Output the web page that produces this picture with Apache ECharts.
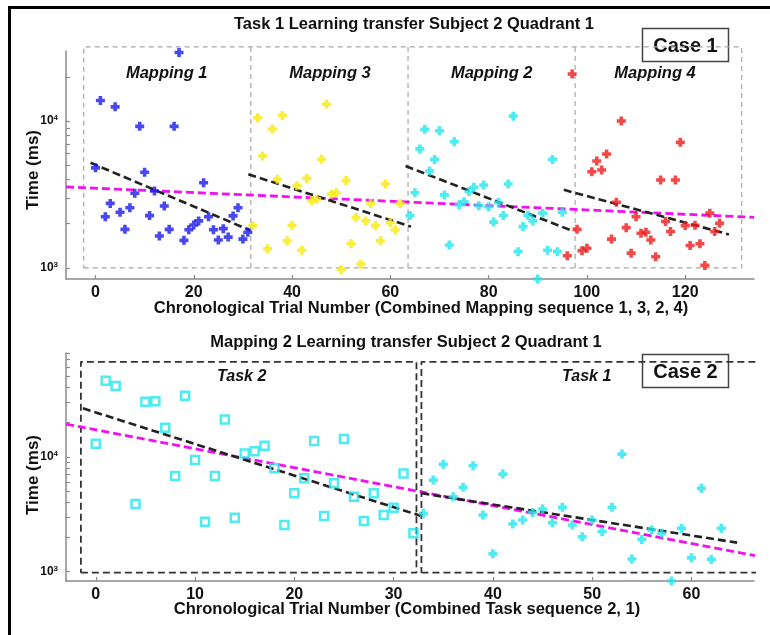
<!DOCTYPE html>
<html><head><meta charset="utf-8">
<script src="https://cdn.jsdelivr.net/npm/echarts@6/dist/echarts.min.js"></script>
<style>html,body{margin:0;padding:0;background:#fff}#c{width:770px;height:635px}</style>
</head><body><div id="c"></div>
<script>
// ---------- DATA ----------
// Case 1 (top): trial number vs time (ms)
const map1Trials = [0,1,2,3,4,5,6,7,8,9,10,11,12,13,14,15,16,17,18,19,20,21,22,23,24,25,26,27,28,29,30,31];
const map1Times  = [4800,13800,2230,2750,12500,2390,1830,2570,3220,9200,4480,2270,3340,1650,2640,1830,9200,29300,1540,1820,1960,2090,3800,2230,1820,1550,1850,1620,2260,2570,1570,1750];
const map3Trials = [32,33,34,35,36,37,38,39,40,41,42,43,44,45,46,47,48,49,50,51,52,53,54,55,56,57,58,59,60,61,62];
const map3Times  = [1940,10530,5780,1350,8830,4010,10930,1530,1950,3630,1320,4070,2870,2950,5490,13000,3180,3250,973,3930,1460,2200,1060,2090,2750,1940,1530,3730,2030,1810,2750];
const map2Trials = [64,65,66,67,68,69,70,71,72,73,74,75,76,77,78,79,80,81,82,83,84,85,86,87,88,89,90,91,92,93,94,95];
const map2Times  = [2270,3250,6460,8780,4570,5480,8590,3140,1430,7230,2690,2820,3310,3540,2650,3670,2610,2050,2790,2270,3730,10800,1290,1910,2280,2090,840,2360,1320,5480,1290,2390];
const map4Trials = [96,97,98,99,100,101,102,103,104,105,106,107,108,109,110,111,112,113,114,115,116,117,118,119,120,121,122,123,124,125,126,127];
const map4Times  = [1210,20900,1830,1310,1360,4520,5350,4640,5970,1570,2800,10000,1880,1260,2230,1720,1750,1550,1190,3970,2070,1770,3970,7160,1940,1420,1950,1460,1040,2360,1770,2010];

// Case 1 trend lines (endpoints)
const case1OverallX = [-6, 134];
const case1OverallY = [3560, 2210];
const case1MapFitX = [[-1, 31.5], [31.1, 64.2], [63.1, 97], [95.3, 128.9]];
const case1MapFitY = [[5200, 1800], [4340, 1910], [4940, 1790], [3400, 1690]];

// Case 1 mapping regions
const mapNames = ['Mapping 1', 'Mapping 3', 'Mapping 2', 'Mapping 4'];
const mapBoundsX = [-2.4, 31.6, 63.6, 97.6, 131.5];
const mapBoundsY = [1000, 32000];

// Case 2 (bottom)
const task2Trials = [0,1,2,4,5,6,7,8,9,10,11,12,13,14,15,16,17,18,19,20,21,22,23,24,25,26,27,28,29,30,31,32];
const task2Times  = [12970,45800,41400,3880,30100,30500,17900,6790,33900,9360,2720,6790,21100,2950,10700,11200,12470,7930,2550,4810,6490,13700,3050,5880,14260,4480,2760,4810,3110,3610,7170,2160];
const task1Trials = [33,34,35,36,37,38,39,40,41,42,43,44,45,46,47,48,49,50,51,52,53,54,55,56,57,58,59,60,61,62,63];
const task1Times  = [3220,6270,8590,4490,5420,8350,3110,1430,7070,2600,2820,3280,3510,2670,3630,2550,2010,2820,2230,3630,10550,1290,1910,2310,2160,830,2380,1320,5310,1280,2380];

const case2OverallX = [-3, 66.4];
const case2OverallY = [19200, 1380];
const case2TaskFitX = [[-1.3, 32.7], [32.8, 64.6]];
const case2TaskFitY = [[26400, 3070], [4810, 1790]];

const taskNames = ['Task 2', 'Task 1'];
const taskBoxesX = [[-1.5, 32.3], [32.8, 66.7]];
const taskBoundsY = [980, 67000];

const xTicksTop = [0, 20, 40, 60, 80, 100, 120];
const xTicksBottom = [0, 10, 20, 30, 40, 50, 60];
const yMajor = [1000, 10000];
const yMinorTop = [1000,2000,3000,4000,5000,6000,7000,8000,9000,10000,20000];
const yMinorBottom = [1000,2000,3000,4000,5000,6000,7000,8000,9000,10000,20000,30000,40000,50000,60000,70000,80000];

// ---------- CHART ----------
const FONT = '"Liberation Sans", Arial, Helvetica, sans-serif';
const PLUS = 'path://M3,0L7,0L7,3L10,3L10,7L7,7L7,10L3,10L3,7L0,7L0,3L3,3Z';
const COL = { blue:'#1a1aee', yellow:'#f8ea0a', cyan:'#22e6ee', red:'#ee1c1c', magenta:'#f010f0', black:'#222' };

const pairs = (xs, ys) => xs.map((x, i) => [x, ys[i]]);

function xAxisCfg(gi, min, max, ticks) {
  return {
    type: 'value', gridIndex: gi, min: min, max: max,
    axisLine: { onZero: false, lineStyle: { color: '#8a8a8a', width: 1.5 } },
    axisTick: { inside: true, length: 4, customValues: ticks, lineStyle: { color: '#8a8a8a', width: 1.2 } },
    axisLabel: { customValues: ticks, margin: 6, color: '#111', fontSize: 16, fontWeight: 'bold', fontFamily: FONT },
    splitLine: { show: false }
  };
}
function yAxisCfg(gi, min, max, minor) {
  return {
    type: 'log', logBase: 10, gridIndex: gi, min: min, max: max,
    axisLine: { show: true, onZero: false, lineStyle: { color: '#8a8a8a', width: 1.5 } },
    axisTick: { show: true, inside: true, length: 4, customValues: minor, lineStyle: { color: '#8a8a8a', width: 1.2 } },
    axisLabel: {
      customValues: yMajor, margin: 8, color: '#111', fontFamily: FONT,
      formatter: v => '{b|10}{s|' + Math.round(Math.log10(v)) + '}',
      rich: {
        b: { fontSize: 12, fontWeight: 'bold', fontFamily: FONT, color: '#111', lineHeight: 14 },
        s: { fontSize: 8, fontWeight: 'bold', fontFamily: FONT, color: '#111', verticalAlign: 'top', lineHeight: 8 }
      }
    },
    splitLine: { show: false }
  };
}

const series = [];
function rectSeries(gi, x0, x1, y0, y1, color, width, dash) {
  series.push({
    type: 'line', xAxisIndex: gi, yAxisIndex: gi, clip: false, silent: true, z: 1,
    symbol: 'none', data: [[x0, y0], [x1, y0], [x1, y1], [x0, y1], [x0, y0]],
    lineStyle: { color: color, width: width, type: dash }
  });
}
function segSeries(gi, xs, ys, color, width, dash) {
  series.push({
    type: 'line', xAxisIndex: gi, yAxisIndex: gi, clip: false, silent: true, z: 3,
    symbol: 'none', data: pairs(xs, ys), lineStyle: { color: color, width: width, type: dash }
  });
}
function scatterSeries(gi, xs, ys, symbol, size, itemStyle) {
  series.push({
    type: 'scatter', xAxisIndex: gi, yAxisIndex: gi, clip: false, z: 4,
    symbol: symbol, symbolSize: size, data: pairs(xs, ys), itemStyle: itemStyle
  });
}

// top boxes
rectSeries(0, mapBoundsX[0], mapBoundsX[4], mapBoundsY[0], mapBoundsY[1], '#a8a8a8', 1.2, [5, 4]);
for (let i = 1; i < 4; i++) {
  series.push({
    type: 'line', xAxisIndex: 0, yAxisIndex: 0, clip: false, silent: true, z: 1, symbol: 'none',
    data: [[mapBoundsX[i], mapBoundsY[0]], [mapBoundsX[i], mapBoundsY[1]]],
    lineStyle: { color: '#a8a8a8', width: 1.2, type: [5, 4] }
  });
}
// bottom boxes
taskBoxesX.forEach(b => rectSeries(1, b[0], b[1], taskBoundsY[0], taskBoundsY[1], '#333', 1.8, [7, 4]));

// scatter
scatterSeries(0, map1Trials, map1Times, PLUS, 9, { color: COL.blue });
scatterSeries(0, map3Trials, map3Times, PLUS, 9, { color: COL.yellow });
scatterSeries(0, map2Trials, map2Times, PLUS, 9, { color: COL.cyan });
scatterSeries(0, map4Trials, map4Times, PLUS, 9, { color: COL.red });
scatterSeries(1, task2Trials, task2Times, 'rect', 8, { color: 'rgba(255,255,255,0)', borderColor: COL.cyan, borderWidth: 2.5 });
scatterSeries(1, task1Trials, task1Times, PLUS, 9, { color: COL.cyan });

// trend lines
segSeries(0, case1OverallX, case1OverallY, COL.magenta, 2.8, [8, 4]);
case1MapFitX.forEach((xs, i) => segSeries(0, xs, case1MapFitY[i], COL.black, 2.6, [8, 4]));
segSeries(1, case2OverallX, case2OverallY, COL.magenta, 2.8, [8, 4]);
case2TaskFitX.forEach((xs, i) => segSeries(1, xs, case2TaskFitY[i], COL.black, 2.6, [8, 4]));

function txt(x, y, text, size, opts) {
  return Object.assign({
    type: 'text', x: x, y: y, z: 10,
    style: Object.assign({ text: text, fill: '#111', font: 'bold ' + size + 'px ' + FONT, align: 'center', verticalAlign: 'middle' }, (opts && opts.style) || {})
  }, (opts && opts.el) || {});
}
function caseBox(x, y, w, h, label) {
  return {
    type: 'group', x: x, y: y, z: 20, children: [
      { type: 'rect', shape: { x: 0, y: 0, width: w, height: h }, style: { fill: '#fff', stroke: '#444', lineWidth: 1.5 } },
      { type: 'text', x: w / 2, y: h / 2 + 1, style: { text: label, fill: '#111', font: 'bold 20px ' + FONT, align: 'center', verticalAlign: 'middle' } }
    ]
  };
}

const mapLabelX = [166.7, 330, 491.7, 655];
const graphic = [
  { type: 'line', shape: { x1: 9.5, y1: 6, x2: 9.5, y2: 640 }, style: { stroke: '#000', lineWidth: 3 }, z: 30 },
  { type: 'line', shape: { x1: 8, y1: 7.5, x2: 775, y2: 7.5 }, style: { stroke: '#000', lineWidth: 3 }, z: 30 },
  txt(414, 24, 'Task 1 Learning transfer Subject 2 Quadrant 1', 16.5),
  txt(421, 308, 'Chronological Trial Number (Combined Mapping sequence 1, 3, 2, 4)', 16.5),
  txt(406, 342, 'Mapping 2 Learning transfer Subject 2 Quadrant 1', 16.5),
  txt(407, 609, 'Chronological Trial Number (Combined Task sequence 2, 1)', 16.5),
  txt(33, 170, 'Time (ms)', 17, { el: { rotation: Math.PI / 2 } }),
  txt(33, 475, 'Time (ms)', 17, { el: { rotation: Math.PI / 2 } }),
  caseBox(642.5, 28.5, 86, 33, 'Case 1'),
  caseBox(642.5, 354.5, 86, 33, 'Case 2')
];
mapNames.forEach((n, i) => graphic.push(txt(mapLabelX[i], 73, n, 16.5, { style: { font: 'italic bold 16.5px ' + FONT } })));
graphic.push(txt(241.7, 377, taskNames[0], 16, { style: { font: 'italic bold 16px ' + FONT } }));
graphic.push(txt(586.7, 377, taskNames[1], 16, { style: { font: 'italic bold 16px ' + FONT } }));

const chart = echarts.init(document.getElementById('c'), null, { renderer: 'canvas' });
chart.setOption({
  animation: false,
  backgroundColor: '#fff',
  grid: [
    { left: 66, top: 51, width: 688, height: 228 },
    { left: 66, top: 353, width: 688, height: 228 }
  ],
  xAxis: [xAxisCfg(0, -6, 134, xTicksTop), xAxisCfg(1, -3, 66.3, xTicksBottom)],
  yAxis: [yAxisCfg(0, 840, 30000, yMinorTop), yAxisCfg(1, 830, 80000, yMinorBottom)],
  series: series,
  graphic: graphic
});
</script></body></html>
